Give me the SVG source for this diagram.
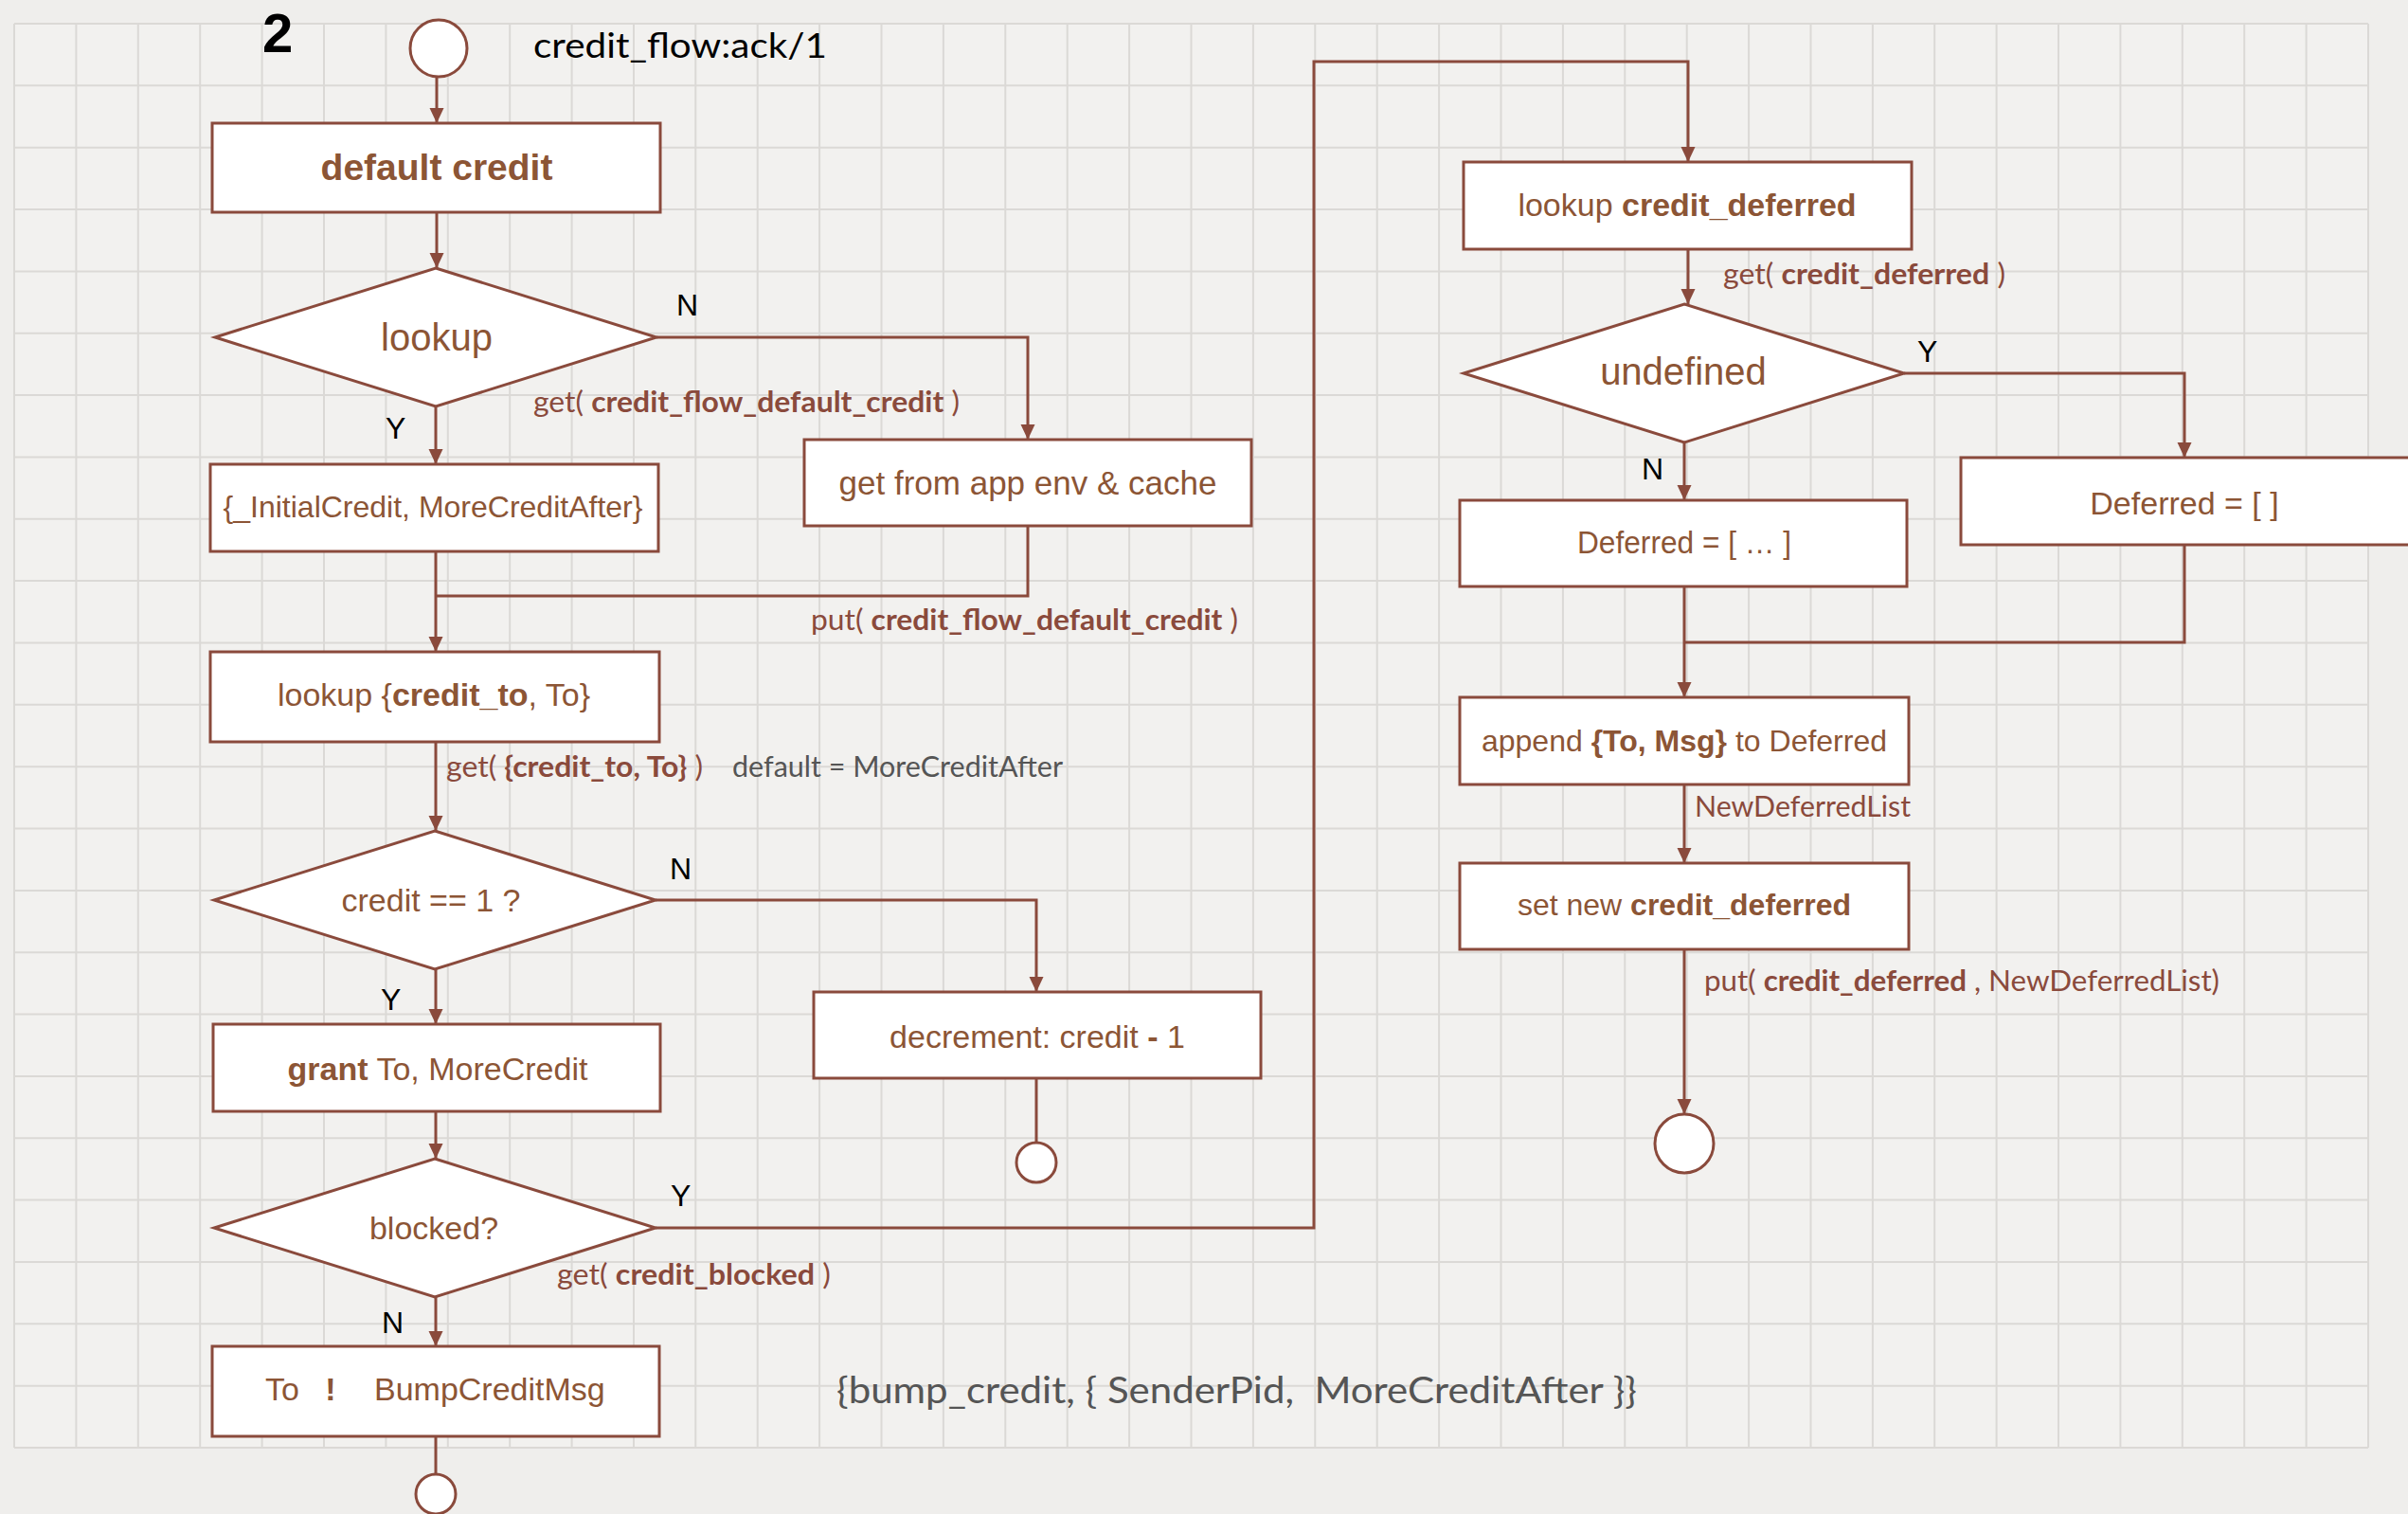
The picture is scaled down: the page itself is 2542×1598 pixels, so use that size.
<svg xmlns="http://www.w3.org/2000/svg" width="2542" height="1598" viewBox="0 0 2542 1598">
  <defs>
    <marker id="arrow" markerUnits="userSpaceOnUse" markerWidth="18" markerHeight="16" refX="16" refY="7.5" orient="auto">
      <path d="M0,0 L16,7.5 L0,15 z" fill="#8a4a3c"/>
    </marker>
    <style>
      .grid { fill: none; stroke: #dbd9d6; stroke-width: 2; }
      .shape { fill: #ffffff; stroke: #8a4a3c; stroke-width: 3; }
      .wire { fill: none; stroke: #8a4a3c; stroke-width: 3; }
      .arrow { marker-end: url(#arrow); }
      .ntext { font-family: "Liberation Sans", Arial, sans-serif; font-size: 34px; fill: #8c5535; text-anchor: middle; }
      .big { font-size: 40px; }
      .b { font-weight: bold; }
      .yn { font-family: "Liberation Sans", Arial, sans-serif; font-size: 32px; fill: #000000; }
      .lbl { font-family: Lato, "Open Sans", sans-serif; font-size: 31px; fill: #8a4a3c; }
      .gray { font-family: Lato, "Open Sans", sans-serif; fill: #555555; }
    </style>
  </defs>

  <!-- paper and grid -->
  <rect x="0" y="0" width="2542" height="1598" fill="#efeeec"/>
  <rect x="15" y="25" width="2485" height="1503" fill="#f2f1ef"/>
  <path class="grid" d="M15 25V1528M80.4 25V1528M145.8 25V1528M211.2 25V1528M276.6 25V1528M342 25V1528M407.4 25V1528M472.8 25V1528M538.2 25V1528M603.6 25V1528M669 25V1528M734.3 25V1528M799.7 25V1528M865.1 25V1528M930.5 25V1528M995.9 25V1528M1061.3 25V1528M1126.7 25V1528M1192.1 25V1528M1257.5 25V1528M1322.9 25V1528M1388.3 25V1528M1453.7 25V1528M1519.1 25V1528M1584.5 25V1528M1649.9 25V1528M1715.3 25V1528M1780.7 25V1528M1846.1 25V1528M1911.5 25V1528M1976.9 25V1528M2042.2 25V1528M2107.6 25V1528M2173 25V1528M2238.4 25V1528M2303.8 25V1528M2369.2 25V1528M2434.6 25V1528M2500 25V1528
    M15 25H2500M15 90.3H2500M15 155.7H2500M15 221H2500M15 286.4H2500M15 351.7H2500M15 417.1H2500M15 482.4H2500M15 547.8H2500M15 613.1H2500M15 678.5H2500M15 743.8H2500M15 809.2H2500M15 874.5H2500M15 939.9H2500M15 1005.2H2500M15 1070.6H2500M15 1135.9H2500M15 1201.3H2500M15 1266.6H2500M15 1332H2500M15 1397.3H2500M15 1462.7H2500M15 1528H2500"/>

  <!-- heading -->
  <text x="277" y="55" font-family="Liberation Sans, Arial, sans-serif" font-size="58" font-weight="bold" fill="#000">2</text>
  <text x="563" y="61" font-family="Lato, Open Sans, sans-serif" font-size="36" fill="#000" textLength="310" lengthAdjust="spacingAndGlyphs">credit_flow:ack/1</text>

  <!-- connectors -->
  <g id="connectors">
    <path class="wire arrow" d="M461 81V130"/>
    <path class="wire arrow" d="M461 224V283"/>
    <path class="wire arrow" d="M693 356H1085V464"/>
    <path class="wire arrow" d="M460 429V490"/>
    <path class="wire" d="M1085 555V629H460"/>
    <path class="wire arrow" d="M460 582V688"/>
    <path class="wire arrow" d="M460 783V877"/>
    <path class="wire arrow" d="M692 950H1094V1047"/>
    <path class="wire" d="M1094 1138V1206"/>
    <path class="wire arrow" d="M460 1023V1081"/>
    <path class="wire arrow" d="M460 1173V1223"/>
    <path class="wire arrow" d="M692 1296H1387V65H1782V171"/>
    <path class="wire arrow" d="M460 1369V1421"/>
    <path class="wire" d="M460 1516V1556"/>
    <path class="wire arrow" d="M1782 263V321"/>
    <path class="wire arrow" d="M2010 394H2306V483"/>
    <path class="wire arrow" d="M1778 467V528"/>
    <path class="wire arrow" d="M1778 619V736"/>
    <path class="wire" d="M2306 575V678H1778"/>
    <path class="wire arrow" d="M1778 828V911"/>
    <path class="wire arrow" d="M1778 1002V1176"/>
  </g>

  <!-- connector labels -->
  <g id="labels">
    <text class="yn" x="714" y="333">N</text>
    <text class="yn" x="407" y="463">Y</text>
    <text class="lbl" x="563" y="435" textLength="450" lengthAdjust="spacingAndGlyphs">get( <tspan class="b">credit_flow_default_credit</tspan> )</text>
    <text class="lbl" x="856" y="665" textLength="451" lengthAdjust="spacingAndGlyphs">put( <tspan class="b">credit_flow_default_credit</tspan> )</text>
    <text class="lbl" x="471" y="820" textLength="271" lengthAdjust="spacingAndGlyphs">get( <tspan class="b">{credit_to, To}</tspan> )</text>
    <text class="gray" x="773" y="820" font-size="31" textLength="349" lengthAdjust="spacingAndGlyphs">default = MoreCreditAfter</text>
    <text class="yn" x="707" y="928">N</text>
    <text class="yn" x="402" y="1066">Y</text>
    <text class="yn" x="708" y="1273">Y</text>
    <text class="lbl" x="588" y="1356" textLength="289" lengthAdjust="spacingAndGlyphs">get( <tspan class="b">credit_blocked</tspan> )</text>
    <text class="yn" x="403" y="1407">N</text>
    <text class="gray" x="883" y="1481" font-size="38" textLength="845" lengthAdjust="spacingAndGlyphs">{bump_credit, { SenderPid,&#160; MoreCreditAfter }}</text>
    <text class="lbl" x="1819" y="300" textLength="298" lengthAdjust="spacingAndGlyphs">get( <tspan class="b">credit_deferred</tspan> )</text>
    <text class="yn" x="2024" y="382">Y</text>
    <text class="yn" x="1733" y="506">N</text>
    <text class="lbl" x="1789" y="862" textLength="228" lengthAdjust="spacingAndGlyphs">NewDeferredList</text>
    <text class="lbl" x="1799" y="1046" textLength="544" lengthAdjust="spacingAndGlyphs">put( <tspan class="b">credit_deferred</tspan> , NewDeferredList)</text>
  </g>

  <!-- left column -->
  <g id="start">
    <circle class="shape" cx="463" cy="51" r="30"/>
  </g>
  <g id="default-credit">
    <rect class="shape" x="224" y="130" width="473" height="94"/>
    <text class="ntext b" x="461" y="190" style="font-size:39px">default credit</text>
  </g>
  <g id="lookup">
    <polygon class="shape" points="460,283 693,356 460,429 227,356"/>
    <text class="ntext big" x="461" y="370">lookup</text>
  </g>
  <g id="app-env">
    <rect class="shape" x="849" y="464" width="472" height="91"/>
    <text class="ntext" x="1085" y="522" style="font-size:35px">get from app env &amp; cache</text>
  </g>
  <g id="initial-credit">
    <rect class="shape" x="222" y="490" width="473" height="92"/>
    <text class="ntext" x="457" y="546" style="font-size:32px">{_InitialCredit, MoreCreditAfter}</text>
  </g>
  <g id="lookup-credit-to">
    <rect class="shape" x="222" y="688" width="474" height="95"/>
    <text class="ntext" x="458" y="745">lookup {<tspan class="b">credit_to</tspan>, To}</text>
  </g>
  <g id="credit-one">
    <polygon class="shape" points="459,877 692,950 459,1023 226,950"/>
    <text class="ntext" x="455" y="962">credit == 1 ?</text>
  </g>
  <g id="decrement">
    <rect class="shape" x="859" y="1047" width="472" height="91"/>
    <text class="ntext" x="1095" y="1106">decrement: credit <tspan class="b">-</tspan> 1</text>
  </g>
  <g id="end-decrement">
    <circle class="shape" cx="1094" cy="1227" r="21"/>
  </g>
  <g id="grant">
    <rect class="shape" x="225" y="1081" width="472" height="92"/>
    <text class="ntext" x="462" y="1140"><tspan class="b">grant</tspan> To, MoreCredit</text>
  </g>
  <g id="blocked">
    <polygon class="shape" points="459,1223 692,1296 459,1369 226,1296"/>
    <text class="ntext" x="458" y="1308">blocked?</text>
  </g>
  <g id="bump">
    <rect class="shape" x="224" y="1421" width="472" height="95"/>
    <text class="ntext" x="280" y="1478" style="text-anchor:start">To</text>
    <text class="ntext b" x="349" y="1478">!</text>
    <text class="ntext" x="395" y="1478" style="text-anchor:start">BumpCreditMsg</text>
  </g>
  <g id="end-bump">
    <circle class="shape" cx="460" cy="1577" r="21"/>
  </g>

  <!-- right column -->
  <g id="lookup-deferred">
    <rect class="shape" x="1545" y="171" width="473" height="92"/>
    <text class="ntext" x="1781" y="228">lookup <tspan class="b">credit_deferred</tspan></text>
  </g>
  <g id="undefined">
    <polygon class="shape" points="1778,321 2010,394 1778,467 1545,394"/>
    <text class="ntext big" x="1777" y="406">undefined</text>
  </g>
  <g id="deferred-empty">
    <rect class="shape" x="2070" y="483" width="490" height="92"/>
    <text class="ntext" x="2306" y="543">Deferred = [ ]</text>
  </g>
  <g id="deferred-list">
    <rect class="shape" x="1541" y="528" width="472" height="91"/>
    <text class="ntext" x="1665" y="584" style="text-anchor:start" textLength="226" lengthAdjust="spacingAndGlyphs">Deferred = [ … ]</text>
  </g>
  <g id="append">
    <rect class="shape" x="1541" y="736" width="474" height="92"/>
    <text class="ntext" x="1778" y="793" style="font-size:32px">append <tspan class="b">{To, Msg}</tspan> to Deferred</text>
  </g>
  <g id="set-deferred">
    <rect class="shape" x="1541" y="911" width="474" height="91"/>
    <text class="ntext" x="1778" y="966" style="font-size:32px">set new <tspan class="b">credit_deferred</tspan></text>
  </g>
  <g id="end-deferred">
    <circle class="shape" cx="1778" cy="1207" r="31"/>
  </g>
</svg>
